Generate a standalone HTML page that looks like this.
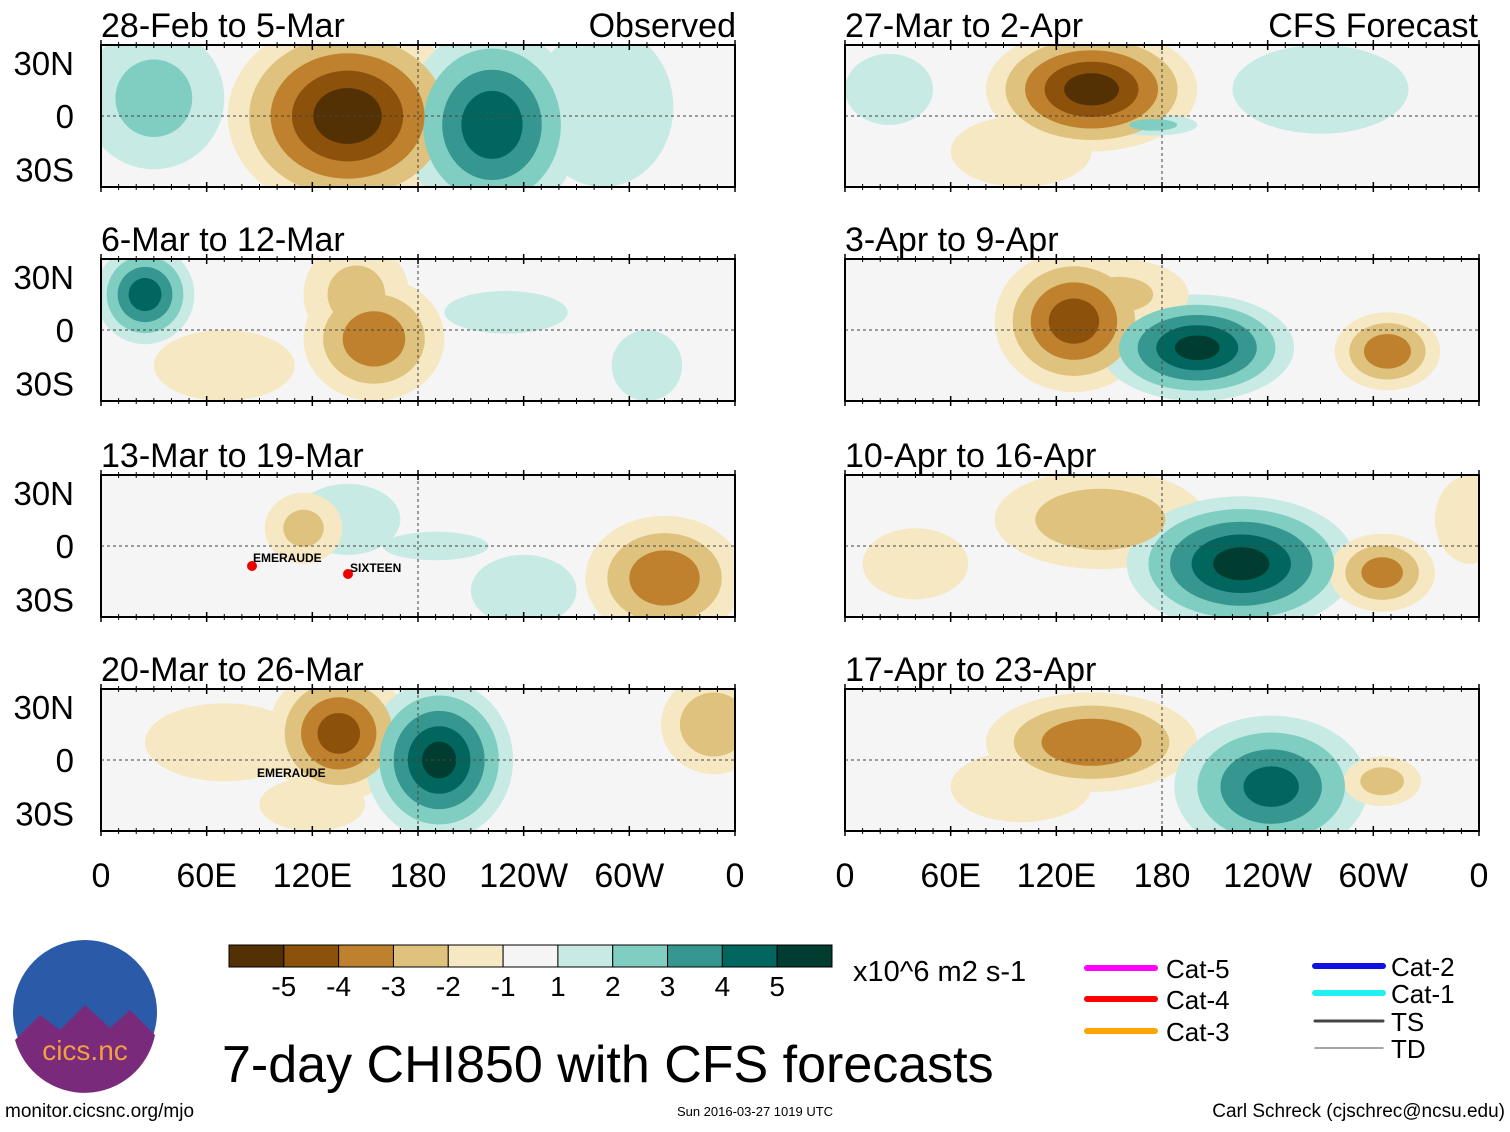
<!DOCTYPE html>
<html><head><meta charset="utf-8"><style>
body{margin:0;background:#fff;}
svg text{font-family:"Liberation Sans",sans-serif;}
</style></head><body>
<svg id="root" width="1510" height="1127" xmlns="http://www.w3.org/2000/svg">
<rect width="1510" height="1127" fill="#fff"/>
</svg>
<script>
// Data
const colorLevels = [-5,-4,-3,-2,-1,0,1,2,3,4,5];
const colorHex = ['#543005','#8c510a','#bf812d','#dfc27d','#f6e8c3','#f5f5f5','#c7eae5','#80cdc1','#35978f','#01665e','#003c30'];
const colorTickLabels = ['-5','-4','-3','-2','-1','1','2','3','4','5'];
const panelTitles = ['28-Feb to 5-Mar','6-Mar to 12-Mar','13-Mar to 19-Mar','20-Mar to 26-Mar','27-Mar to 2-Apr','3-Apr to 9-Apr','10-Apr to 16-Apr','17-Apr to 23-Apr'];
const lonTicks = [0,60,120,180,240,300,360];
const lonTickLabels = ['0','60E','120E','180','120W','60W','0'];
const latTicks = [30,0,-30];
const latTickLabels = ['30N','0','30S'];
// blobs: [lon, lat, amplitude, rx(deg), ry(deg)]
const panelBlobs = [
 [[30,10,2.2,40,40],[285,5,1.8,40,45],[140,0,-5.6,68,55],[150,0,-4.6,40,35],[222,-5,4.6,50,55],[215,3,4.2,25,20]],
 [[25,20,4.5,28,28],[70,-20,-1.5,40,20],[155,-5,-3.6,40,35],[145,20,-2.2,30,30],[230,10,1.5,35,12],[310,-20,1.3,20,20]],
 [[320,-18,-3.6,45,35],[140,15,1.4,30,20],[115,10,-2.1,22,20],[190,0,1.6,30,8],[240,-25,1.2,30,20]],
 [[70,10,-1.8,45,22],[135,15,-4.3,40,38],[192,0,5.2,42,45],[348,20,-2.8,30,28],[120,-25,-1.3,30,15]],
 [[140,15,-5.4,60,35],[270,15,1.6,50,25],[175,-5,2.2,25,6],[25,15,1.3,25,20],[100,-20,-1.5,40,20]],
 [[130,5,-4.4,45,40],[200,-10,5.2,55,30],[308,-12,-3.6,30,22],[155,20,-2,40,20]],
 [[145,15,-2.6,60,28],[225,-10,5.3,65,38],[305,-15,-3.3,30,22],[355,15,-1.6,20,25],[40,-10,-1.3,30,20]],
 [[140,10,-3.8,60,28],[242,-15,4.2,55,40],[305,-12,-2.3,22,14],[100,-15,-1.3,40,20]]
];
const legendCats = ['Cat-5','Cat-4','Cat-3','Cat-2','Cat-1','TS','TD'];
const legendColors = ['#ff00ff','#ff0000','#ffa500','#1010e0','#20f0f0','#444','#888'];

const NS='http://www.w3.org/2000/svg';
const root=document.getElementById('root');
function el(tag,attrs,parent){const e=document.createElementNS(NS,tag);for(const k in attrs)e.setAttribute(k,attrs[k]);(parent||root).appendChild(e);return e;}
function colorFor(v){let i=colorLevels.indexOf(v);return colorHex[i];}

const cols=[101,845], rows=[45,259,475,689], PW=634, PH=142;
panelTitles.forEach((title,p)=>{
  const c=Math.floor(p/4), r=p%4;
  const x0=cols[c], y0=rows[r];
  const xs=lon=>x0+lon/360*PW;
  const ys=lat=>y0+PH/2-lat/40*(PH/2);
  const g=el('g',{});
  
  
  const cid='clip'+p;
  const cp=el('clipPath',{id:cid},g);el('rect',{x:x0,y:y0,width:PW,height:PH},cp);
  el('rect',{x:x0,y:y0,width:PW,height:PH,fill:'#f5f5f5'},g);
  const inner=el('g',{'clip-path':'url(#'+cid+')'},g);
  for(let k=1;k<=5;k++){
    panelBlobs[p].forEach(b=>{
      const [lon,lat,amp,rx,ry]=b;const A=Math.abs(amp),s=Math.sign(amp);
      if(Math.floor(A)<k) return;
      const f=1-(k-1)/A;
      const e=el('ellipse',{cx:xs(lon),cy:ys(lat),rx:rx*f/360*PW,ry:ry*f/40*PH/2,fill:colorFor(s*k)},inner);
      
      
    });
  }
  el('line',{x1:x0,x2:x0+PW,y1:ys(0),y2:ys(0),stroke:'#444','stroke-dasharray':'3,3','stroke-width':1},g);
  el('line',{x1:xs(180),x2:xs(180),y1:y0,y2:y0+PH,stroke:'#444','stroke-dasharray':'3,3','stroke-width':1},g);
  el('rect',{x:x0,y:y0,width:PW,height:PH,fill:'none',stroke:'#000','stroke-width':2},g);
  lonTicks.forEach(t=>{el('line',{x1:xs(t),x2:xs(t),y1:y0-5,y2:y0+5,stroke:'#000','stroke-width':1.5},g);el('line',{x1:xs(t),x2:xs(t),y1:y0+PH-5,y2:y0+PH+5,stroke:'#000','stroke-width':1.5},g);});
  for(let t=0;t<=360;t+=10){el('line',{x1:xs(t),x2:xs(t),y1:y0-3,y2:y0+3,stroke:'#000'},g);el('line',{x1:xs(t),x2:xs(t),y1:y0+PH-3,y2:y0+PH+3,stroke:'#000'},g);}
  const tt=el('text',{x:x0,y:y0-8,'font-size':34},g);tt.textContent=title;
  
  if(c===0){latTicks.forEach((t,i)=>{const lt=el('text',{x:74,y:ys(t)+12,'font-size':33,'text-anchor':'end'},g);lt.textContent=latTickLabels[i];});}
  if(r===3){lonTicks.forEach((t,i)=>{const lt=el('text',{x:xs(t),y:887,'font-size':34,'text-anchor':'middle'},g);lt.textContent=lonTickLabels[i];});}
});
let h=el('text',{x:736,y:37,'font-size':34,'text-anchor':'end'});h.textContent='Observed';

h=el('text',{x:1478,y:37,'font-size':34,'text-anchor':'end'});h.textContent='CFS Forecast';

// storm labels
[['EMERAUDE',253,562],['SIXTEEN',350,572],['EMERAUDE',257,777]].forEach(s=>{const t=el('text',{x:s[1],y:s[2],'font-size':12,'font-weight':'bold'});t.textContent=s[0];});
el('circle',{cx:252,cy:566,r:5,fill:'#e00'});el('circle',{cx:348,cy:574,r:5,fill:'#e00'});
// colorbar
const cb=el('g',{});
const cbx=229,cbw=603/colorHex.length;
colorHex.forEach((c,i)=>el('rect',{x:cbx+i*cbw,y:945,width:cbw,height:22,fill:c,stroke:'#000','stroke-width':1},cb));
colorTickLabels.forEach((l,i)=>{const t=el('text',{x:cbx+(i+1)*cbw,y:996,'font-size':28,'text-anchor':'middle'},cb);t.textContent=l;});
h=el('text',{x:853,y:981,'font-size':29});h.textContent='x10^6 m2 s-1';
h=el('text',{x:222,y:1082,'font-size':52});h.textContent='7-day CHI850 with CFS forecasts';
// legend
const lg=el('g',{});
const lpos=[[1087,968],[1087,999],[1087,1031],[1315,966],[1315,993],[1315,1021],[1315,1048]];
legendCats.forEach((c,i)=>{const [x,y]=lpos[i];const w=i<5?6:(i===5?3:1.5);el('line',{x1:x,x2:x+68,y1:y,y2:y,stroke:legendColors[i],'stroke-width':w,'stroke-linecap':'round'},lg);const t=el('text',{x:x+(i<3?79:76),y:y+10,'font-size':26},lg);t.textContent=c;});
// logo
const lo=el('g',{});
el('circle',{cx:85,cy:1012,r:72,fill:'#2a5aa8'},lo);
el('path',{d:'M15,1040 L40,1015 L60,1030 L85,1005 L110,1028 L130,1010 L155,1035 A72,72 0 0 1 15,1040Z',fill:'#7a2a7a'},lo);
h=el('text',{x:85,y:1060,'font-size':28,fill:'#f0a040','text-anchor':'middle'},lo);h.textContent='cics.nc';
// footer
h=el('text',{x:5,y:1117,'font-size':19});h.textContent='monitor.cicsnc.org/mjo';
h=el('text',{x:755,y:1116,'font-size':13,'text-anchor':'middle'});h.textContent='Sun 2016-03-27 1019 UTC';
h=el('text',{x:1505,y:1117,'font-size':19,'text-anchor':'end'});h.textContent='Carl Schreck (cjschrec@ncsu.edu)';
</script>
</body></html>
